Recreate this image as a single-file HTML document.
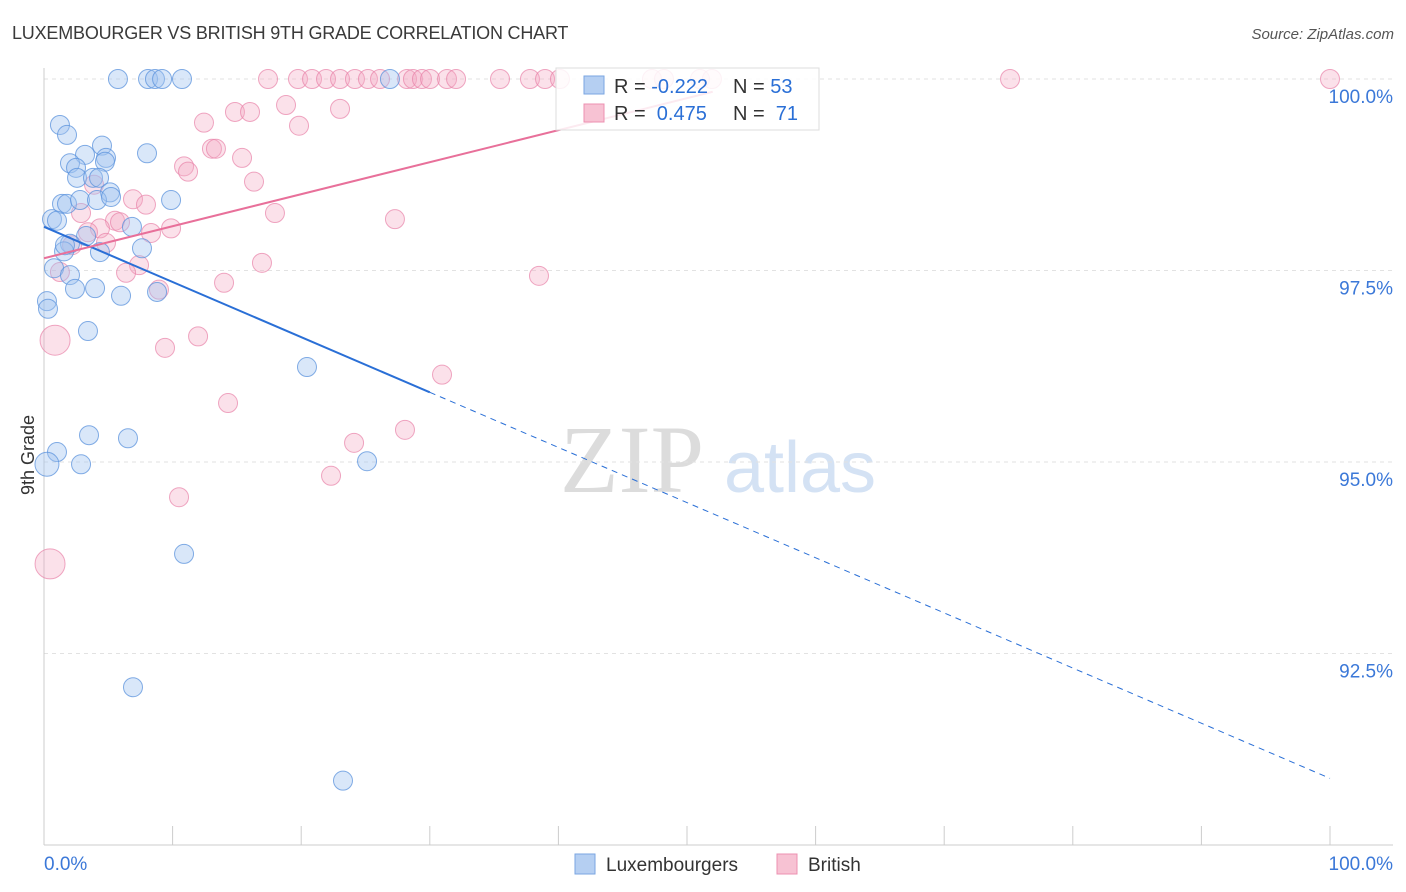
<!DOCTYPE html>
<html><head><meta charset="utf-8">
<style>
body{margin:0;background:#fff;font-family:"Liberation Sans",sans-serif;}
svg{display:block}
</style></head>
<body>
<svg id="chart" width="1406" height="892" viewBox="0 0 1406 892">
<text x="12" y="39" font-size="18" fill="#3a3a3a" letter-spacing="-0.2">LUXEMBOURGER VS BRITISH 9TH GRADE CORRELATION CHART</text>
<text x="1394" y="39" font-size="15" fill="#555" text-anchor="end" font-style="italic">Source: ZipAtlas.com</text>
<g>
<text x="632" y="492" font-size="96" fill="#dcdcdc" font-family="Liberation Serif,serif" text-anchor="middle">ZIP</text>
<text x="800" y="492" font-size="72" fill="#d4e2f4" text-anchor="middle">atlas</text>
</g>
<g id="grid"></g>
<g id="axes"></g>
<g id="marks"></g>
<g>
<rect x="556" y="68" width="263" height="62" fill="rgba(255,255,255,0.85)" stroke="#ddd"/>
<rect x="584" y="76" width="20" height="18" fill="#b5cff2" stroke="#7aa6e2"/>
<text x="614" y="93" font-size="20" fill="#333">R = <tspan fill="#2a6fd6">-0.222</tspan></text>
<text x="733" y="93" font-size="20" fill="#333">N = <tspan fill="#2a6fd6">53</tspan></text>
<rect x="584" y="104" width="20" height="18" fill="#f7c2d3" stroke="#ec90b0"/>
<text x="614" y="120" font-size="20" fill="#333" xml:space="preserve">R =  <tspan fill="#2a6fd6">0.475</tspan></text>
<text x="733" y="120" font-size="20" fill="#333" xml:space="preserve">N =  <tspan fill="#2a6fd6">71</tspan></text>
</g>
<g>
<rect x="575" y="854" width="20" height="20" fill="#b5cff2" stroke="#7aa6e2"/>
<text x="606" y="871" font-size="19" fill="#333">Luxembourgers</text>
<rect x="777" y="854" width="20" height="20" fill="#f7c2d3" stroke="#ec90b0"/>
<text x="808" y="871" font-size="19" fill="#333">British</text>
</g>
</svg>
<script>
const yTicks=[100,97.5,95,92.5];
const yTickLabels=["100.0%","97.5%","95.0%","92.5%"];
const xTickLabels=["0.0%","100.0%"];
const luxX=[5.75,8.09,8.63,9.18,10.73,26.9,1.24,1.79,4.51,3.19,4.82,8.01,2.02,4.74,2.49,2.57,3.81,4.28,5.13,1.40,1.79,2.80,4.12,5.21,9.88,0.62,1.01,6.84,3.27,2.02,1.56,4.35,7.62,0.78,2.02,2.41,3.97,5.99,8.79,0.23,0.31,3.42,20.45,3.50,6.53,1.01,0.23,2.88,25.12,10.89,6.92,23.25,1.63];
const luxY=[100,100,100,100,100,100,99.40,99.27,99.13,99.01,98.97,99.03,98.90,98.92,98.84,98.71,98.71,98.71,98.52,98.37,98.37,98.42,98.42,98.46,98.42,98.17,98.15,98.07,97.95,97.85,97.75,97.74,97.79,97.53,97.44,97.26,97.27,97.17,97.22,97.10,97.00,96.71,96.24,95.35,95.31,95.13,94.97,94.97,95.01,93.80,92.06,90.84,97.83];
const luxR=luxX.map((v,i)=>i===46?12:9.5);
const brX=[17.42,19.75,20.84,21.93,23.02,24.18,25.19,26.13,28.23,28.69,29.39,30.02,31.34,32.04,35.46,37.79,38.96,40.12,47.28,48.21,51.01,51.94,75.12,100,18.82,14.85,16.02,23.02,12.44,19.83,13.06,13.37,15.40,10.89,11.20,16.33,3.89,6.92,7.93,2.88,17.96,27.29,5.52,5.91,4.35,9.88,8.32,3.42,4.82,2.18,16.95,7.39,6.38,1.24,38.49,14.00,8.94,11.98,0.86,9.41,30.95,14.31,28.07,24.11,22.32,10.50,0.47];
const brY=[100,100,100,100,100,100,100,100,100,100,100,100,100,100,100,100,100,100,100,100,100,100,100,100,99.66,99.57,99.57,99.61,99.43,99.39,99.09,99.09,98.97,98.86,98.79,98.66,98.62,98.43,98.36,98.25,98.25,98.17,98.15,98.13,98.05,98.05,97.99,98.00,97.86,97.83,97.60,97.57,97.47,97.48,97.43,97.34,97.25,96.64,96.59,96.49,96.14,95.77,95.42,95.25,94.82,94.54,93.67];
const brR=brX.map((v,i)=>i===58||i===66?15:9.5);
const luxTrend=[98.07,-0.072];
const brTrend=[97.66,0.0418];
const NS="http://www.w3.org/2000/svg";
const X0=44,X1=1330,Y100=79,PXY=76.6;
const sx=v=>X0+(X1-X0)*v/100;
const sy=v=>Y100+(100-v)*PXY;
function mk(tag,attrs,parent){const e=document.createElementNS(NS,tag);for(const k in attrs)e.setAttribute(k,attrs[k]);parent.appendChild(e);return e;}
const grid=document.getElementById('grid'),axes=document.getElementById('axes'),marks=document.getElementById('marks');
yTicks.forEach((t,i)=>{
 const l=mk('line',{x1:44,x2:1393,y1:sy(t),y2:sy(t),stroke:'#e2e2e2','stroke-dasharray':'4,4'},grid);
 
 
 const tx=mk('text',{x:1393,y:sy(t)+24,'font-size':19,fill:'#3b78d8','text-anchor':'end'},axes);
 tx.textContent=yTickLabels[i];
 
 
});
const ax=mk('line',{x1:44,x2:44,y1:68,y2:845,stroke:'#ccc'},axes);


const bx=mk('line',{x1:44,x2:1393,y1:845,y2:845,stroke:'#ccc'},axes);


for(let i=1;i<=10;i++){const t=mk('line',{x1:sx(i*10),x2:sx(i*10),y1:826,y2:845,stroke:'#ccc'},axes);
 
 }
[[44,'start',0],[1393,'end',1]].forEach(([x,a,i])=>{const t=mk('text',{x:x,y:870,'font-size':19,fill:'#3b78d8','text-anchor':a},axes);t.textContent=xTickLabels[i];
 
 });
const yt=mk('text',{x:34,y:455,'font-size':18,fill:'#333','text-anchor':'middle',transform:'rotate(-90 34 455)'},axes);
yt.textContent='9th Grade';


brX.forEach((v,i)=>{const c=mk('circle',{cx:sx(v),cy:sy(brY[i]),r:brR[i],fill:'rgba(244,170,196,0.35)',stroke:'rgba(232,130,168,0.7)','stroke-width':1},marks);
 
 });
luxX.forEach((v,i)=>{const c=mk('circle',{cx:sx(v),cy:sy(luxY[i]),r:luxR[i],fill:'rgba(160,196,240,0.4)',stroke:'rgba(90,145,220,0.75)','stroke-width':1},marks);
 
 });
const f=(tr,x)=>tr[0]+tr[1]*x;
const l1=mk('line',{x1:sx(0),y1:sy(f(luxTrend,0)),x2:sx(30),y2:sy(f(luxTrend,30)),stroke:'#2a6fd6','stroke-width':2},marks);


const l2=mk('line',{x1:sx(30),y1:sy(f(luxTrend,30)),x2:sx(100),y2:sy(f(luxTrend,100)),stroke:'#2a6fd6','stroke-width':1,'stroke-dasharray':'6,5'},marks);


const l3=mk('line',{x1:sx(0),y1:sy(f(brTrend,0)),x2:sx(52),y2:sy(f(brTrend,52)),stroke:'#e8709a','stroke-width':2},marks);


</script>
</body></html>
